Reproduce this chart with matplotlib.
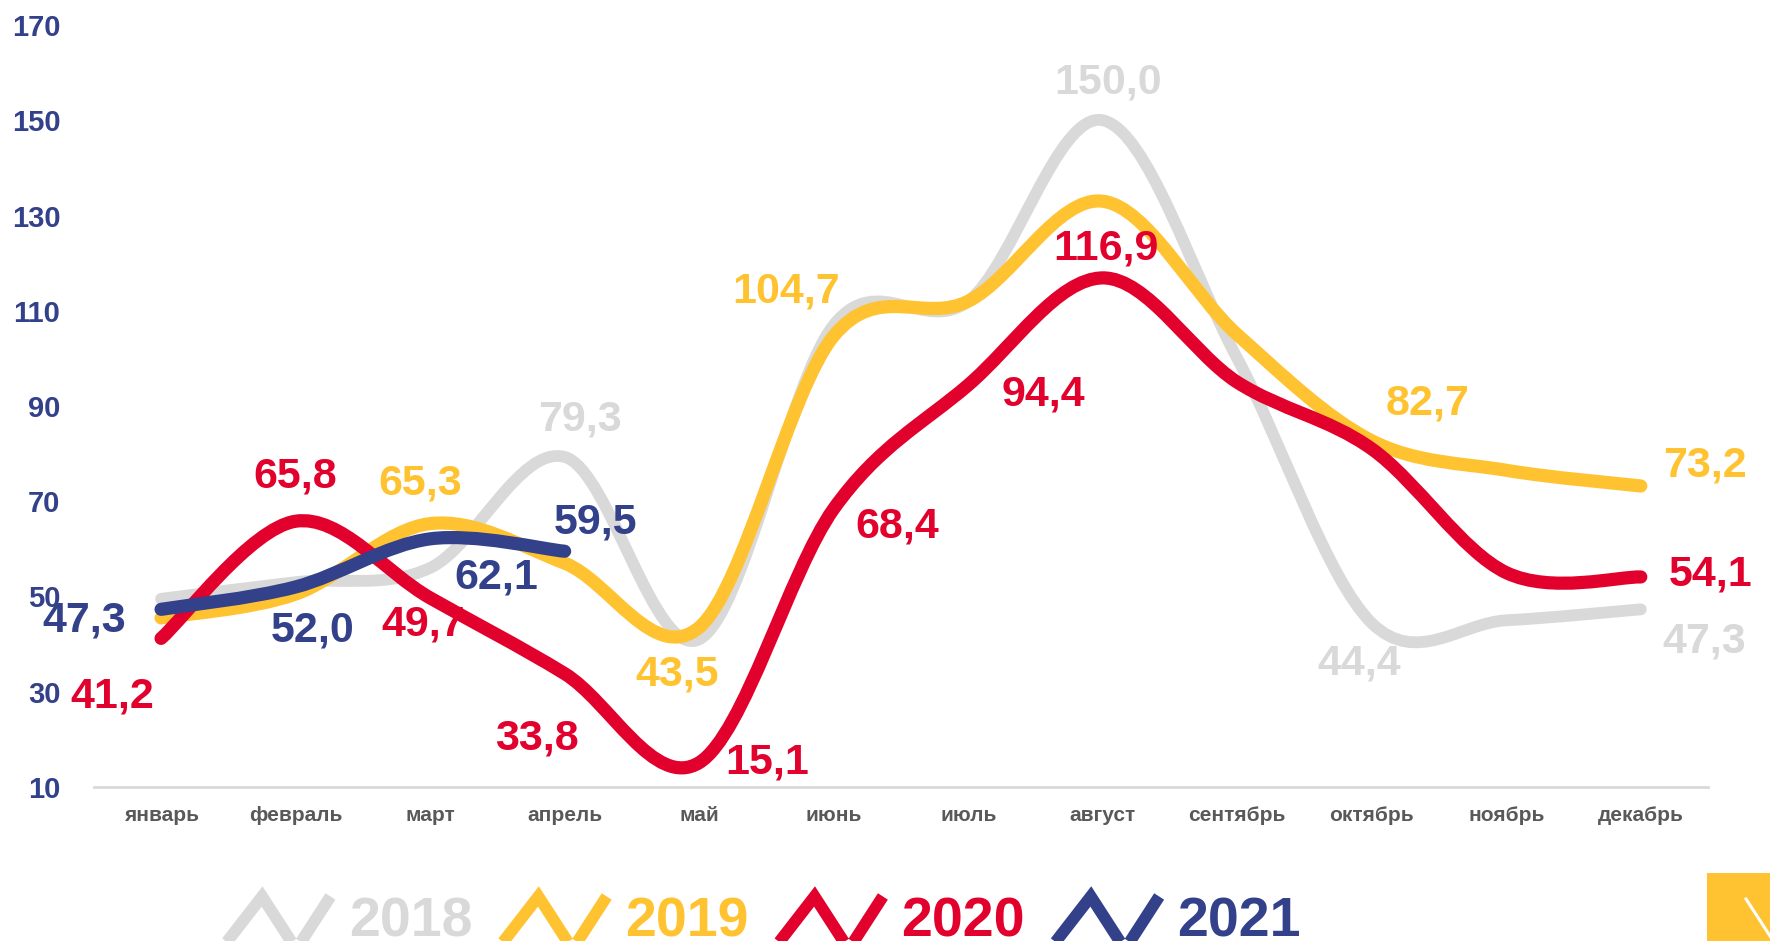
import numpy as np
import matplotlib.pyplot as plt
from matplotlib.path import Path
from matplotlib.patches import PathPatch, Rectangle
from matplotlib.lines import Line2D
from matplotlib.legend_handler import HandlerBase

# данные (значения по месяцам)
months = ['январь', 'февраль', 'март', 'апрель', 'май', 'июнь',
          'июль', 'август', 'сентябрь', 'октябрь', 'ноябрь', 'декабрь']
y2018 = [49.5, 53.0, 56.0, 79.3, 41.0, 107.0, 112.0, 150.0, 100.0, 44.4, 45.0, 47.3]
y2019 = [45.5, 50.5, 65.3, 57.0, 43.5, 104.7, 112.0, 133.0, 105.0, 82.7, 76.5, 73.2]
y2020 = [41.2, 65.8, 49.7, 33.8, 15.1, 68.4, 94.4, 116.9, 95.0, 81.0, 55.0, 54.1]
y2021 = [47.3, 52.0, 62.1, 59.5]
years = ['2018', '2019', '2020', '2021']
yticks = [10, 30, 50, 70, 90, 110, 130, 150, 170]

# какие точки подписаны: (индекс месяца, смещение подписи в pt, вверх = +)
labels2018 = [(3, 11, 27), (7, 4, 27), (9, -9, -29), (11, 46, -23)]
labels2019 = [(2, -7, 29), (4, -16, -34), (5, -34, 32), (9, 40, 27), (11, 46, 15)]
labels2020 = [(0, -35, -42), (1, 0, 32), (2, -5, -19), (3, -20, -47), (4, 49, 0),
              (5, 46, -13), (6, 54, -7), (7, 2, 21), (11, 50, 2)]
labels2021 = [(0, -55, -8), (1, 12, -31), (2, 48, -28), (3, 22, 21)]

colors = ['#D9D9D9', '#FFC331', '#E2002D', '#33418A']
font = ['Liberation Sans', 'DejaVu Sans']


def smooth_path(ys):
    # сглаженная линия как в Excel: кубические кривые Безье через точки
    p = np.column_stack([np.arange(len(ys)), ys]).astype(float)
    n = len(p)
    verts = [p[0]]
    codes = [Path.MOVETO]
    for i in range(n - 1):
        p0 = p[i - 1] if i > 0 else p[i]
        p3 = p[i + 2] if i + 2 < n else p[i + 1]
        c1 = p[i] + (p[i + 1] - p0) / 6
        c2 = p[i + 1] - (p3 - p[i]) / 6
        verts += [c1, c2, p[i + 1]]
        codes += [Path.CURVE4] * 3
    return Path(verts, codes)


class ZigzagHandler(HandlerBase):
    def create_artists(self, legend, orig_handle, xdescent, ydescent,
                       width, height, fontsize, trans):
        xs = np.array([0.0, 0.36, 0.66, 0.96]) * width - xdescent
        ys = np.array([-0.3, 1.0, -0.3, 1.0]) * height - ydescent
        line = Line2D(xs, ys, color=orig_handle.get_color(),
                      lw=orig_handle.get_linewidth(), solid_joinstyle='miter',
                      solid_capstyle='butt', transform=trans)
        return [line]


fig = plt.figure(figsize=(17.7, 9.41), dpi=100)
ax = fig.add_axes([0.053, 0.1637, 0.912, 0.8097])

series = [y2018, y2019, y2020, y2021]
all_labels = [labels2018, labels2019, labels2020, labels2021]
widths = [8.5, 9.5, 9.5, 9.5]
handles = []
for k, ys in enumerate(series):
    patch = PathPatch(smooth_path(ys), fill=False, edgecolor=colors[k],
                      lw=widths[k], capstyle='round', joinstyle='round',
                      zorder=2 + k)
    ax.add_patch(patch)
    handles.append(Line2D([], [], color=colors[k], lw=8.5))
    for i, dx, dy in all_labels[k]:
        ax.annotate(f'{ys[i]:.1f}'.replace('.', ','), (i, ys[i]),
                    xytext=(dx, dy), textcoords='offset points',
                    ha='center', va='center', fontsize=31, fontweight='bold',
                    family=font, color=colors[k], zorder=10,
                    annotation_clip=False)

ax.set_xlim(-0.5, 11.5)
ax.set_ylim(10, 170)
ax.set_xticks(range(len(months)))
ax.set_xticklabels(months, fontsize=15, fontweight='bold', color='#595959',
                   family=font)
ax.set_yticks(yticks)
ax.set_yticklabels([str(t) for t in yticks], fontsize=21, fontweight='bold',
                   color='#33418A', family=font)
ax.tick_params(axis='x', length=0, pad=14)
ax.tick_params(axis='y', length=0, pad=24)
for s in ['top', 'right', 'left']:
    ax.spines[s].set_visible(False)
ax.spines['bottom'].set_color('#D9D9D9')
ax.spines['bottom'].set_linewidth(2)

leg = fig.legend(handles, years, loc='center', ncol=4, frameon=False,
                 bbox_to_anchor=(0.43, 0.02), bbox_transform=fig.transFigure,
                 handler_map={Line2D: ZigzagHandler()},
                 prop={'family': font, 'weight': 'bold', 'size': 40},
                 handlelength=2.05, handleheight=0.75, handletextpad=0.25,
                 columnspacing=0.45, borderpad=0)
for txt, c in zip(leg.get_texts(), colors):
    txt.set_color(c)

# жёлтый квадрат в углу
fig.add_artist(Rectangle((1707 / 1770, 0), 63 / 1770, 68 / 941,
                         transform=fig.transFigure, color='#FFC331', lw=0))
fig.add_artist(Line2D([1746 / 1770, 1772 / 1770], [42 / 941, 2 / 941],
                      transform=fig.transFigure, color='white', lw=2.2))

fig.savefig('out.png', dpi=100)
